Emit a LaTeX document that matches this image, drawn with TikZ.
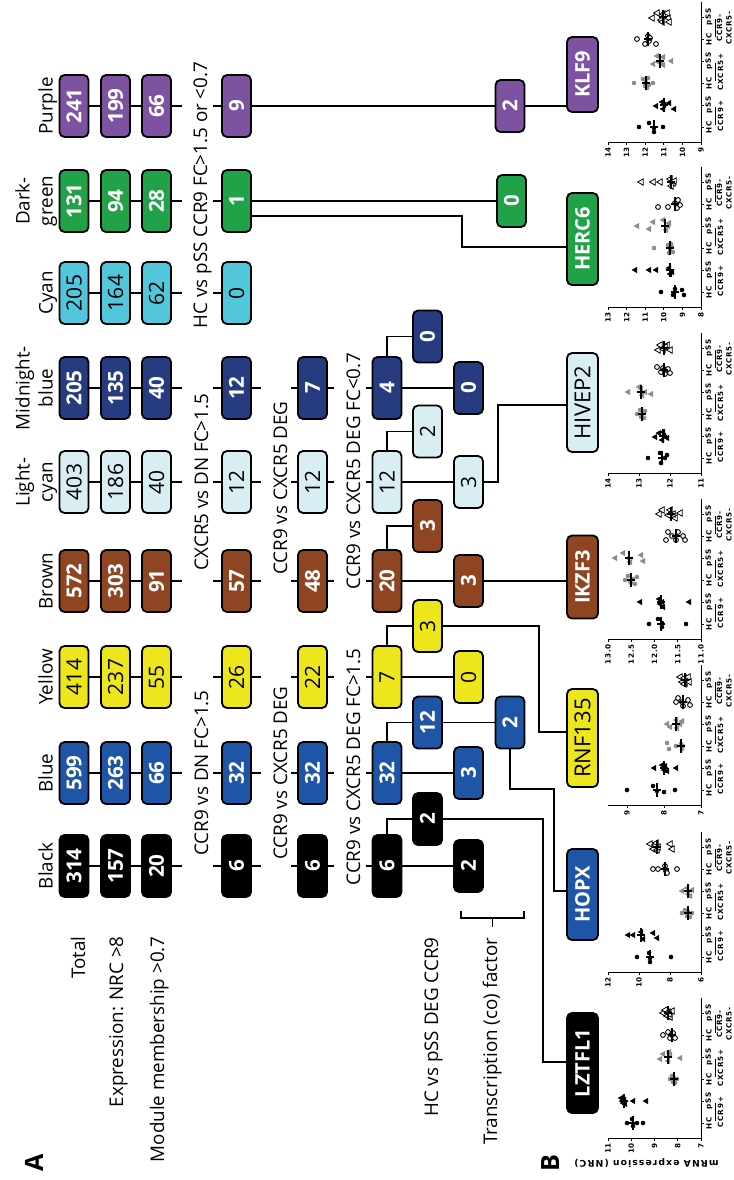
\documentclass[tikz,border=0pt]{standalone}
\usepackage{fontspec}
\setmainfont{Open Sans}
\newfontfamily\plotfont[LetterSpace=12]{DejaVu Sans}
\definecolor{cblack}{HTML}{000000}
\definecolor{cblue}{HTML}{1F55A6}
\definecolor{cyellow}{HTML}{EDE61D}
\definecolor{cbrown}{HTML}{8F4521}
\definecolor{clcyan}{HTML}{D9EEF3}
\definecolor{cmblue}{HTML}{263B80}
\definecolor{ccyan}{HTML}{52C6DA}
\definecolor{cgreen}{HTML}{21A249}
\definecolor{cpurple}{HTML}{7D52A0}
\definecolor{cgray}{HTML}{8C8C8C}
\newcommand\mkKc[2]{\fill[black] (#1,{#2}) circle (1.15pt);}
\newcommand\mkGc[2]{\fill[cgray] (#1,{#2}) circle (1.15pt);}
\newcommand\mkOc[2]{\draw[black,line width=0.45pt,fill=white] (#1,{#2}) circle (1.2pt);}
\newcommand\mkKt[2]{\fill[black] (#1,{#2}) +(-1.7pt,0) -- +(1.1pt,1.6pt) -- +(1.1pt,-1.6pt) -- cycle;}
\newcommand\mkGt[2]{\fill[cgray] (#1,{#2}) +(-1.7pt,0) -- +(1.1pt,1.6pt) -- +(1.1pt,-1.6pt) -- cycle;}
\newcommand\mkOt[2]{\draw[black,line width=0.4pt,fill=white] (#1,{#2}) +(-1.7pt,0) -- +(1.1pt,1.6pt) -- +(1.1pt,-1.6pt) -- cycle;}
\newcommand\medln[2]{\draw[medl] (#1,{#2-7}) -- (#1,{#2+7}); \draw[medl] ({#1-4},{#2}) -- ({#1+4},{#2});}
\newcommand\dgrp[4]{\foreach \px/\dy in {#4}{\csname mk#1\endcsname{\px}{#2+(\dy)}} \medln{#3}{#2}}
\newcommand\plotaxes[1]{%
  \draw[axl] (608,0) -- (701,0) -- (701,-140);
  \foreach \tkx/\tkl in {#1}{\draw[axl] (\tkx,0) -- (\tkx,3); \node[ticklbl] at (\tkx,4) {\tkl};}
  \foreach \cy/\cname in {-15/HC,-37/pSS,-59/HC,-81/pSS,-103/HC,-125/pSS}{\draw[axl] (701,\cy) -- (704,\cy); \node[catlbl] at (709,\cy) {\cname};}
  \foreach \gy in {-26,-70,-114}{\draw[axl] (715,{\gy-9}) -- (715,{\gy+9});}
  \node[catlbl,anchor=base] at (723,-26) {CCR9+};
  \node[catlbl,anchor=base] at (723,-70) {CXCR5+};
  \node[catlbl,anchor=south,align=center,text depth=0pt] at (732,-114) {CCR9-\\CXCR5-};
}
\begin{document}
\begin{tikzpicture}[x=0.5pt,y=-0.5pt,
  conn/.style={line width=0.8pt},
  box/.style={draw=black,line width=0.9pt,rounded corners=2.5pt,rotate=90,minimum width=31pt,minimum height=14.5pt,inner sep=0pt},
  sbox/.style={box,minimum width=26pt},
  gbox/.style={box,minimum height=15.5pt},
  dk/.style={text=white,font=\fontsize{10.3}{12}\selectfont\bfseries},
  lt/.style={text=black,font=\fontsize{10.5}{12}\selectfont},
  gdk/.style={text=white,font=\fontsize{10}{12}\selectfont\bfseries},
  glt/.style={text=black,font=\fontsize{11}{13}\selectfont},
  mk/.style={fill=cblack,dk}, mb/.style={fill=cblue,dk}, my/.style={fill=cyellow,lt},
  mbr/.style={fill=cbrown,dk}, mlc/.style={fill=clcyan,lt}, mmb/.style={fill=cmblue,dk},
  mc/.style={fill=ccyan,lt}, mg/.style={fill=cgreen,dk}, mp/.style={fill=cpurple,dk},
  lbl/.style={rotate=90,inner sep=0pt,font=\fontsize{9.4}{11.5}\selectfont},
  axl/.style={line width=0.5pt},
  medl/.style={line width=0.55pt},
  ticklbl/.style={rotate=90,anchor=east,inner sep=0.3pt,font=\plotfont\bfseries\fontsize{3.6}{4}\selectfont},
  catlbl/.style={rotate=90,inner sep=0pt,font=\plotfont\bfseries\fontsize{3.6}{4.8}\selectfont}
]
\useasboundingbox (0,0) rectangle (734,1180);
\fill[white] (0,0) rectangle (734,1180);

% ---------- rows 1-3 ----------
\foreach \nn/\yy/\va/\vb/\vc/\vs in {k/866/314/157/20/mk, b/773/599/263/66/mb, y/677/414/237/55/my, br/581/572/303/91/mbr, lc/482/403/186/40/mlc, mb/388/205/135/40/mmb, c/293/205/164/62/mc, dg/201/131/94/28/mg, p/106/241/199/66/mp}{
  \node[box,\vs] (\nn1) at (74,\yy) {\va};
  \node[box,\vs] (\nn2) at (115.5,\yy) {\vb};
  \node[box,\vs] (\nn3) at (156.5,\yy) {\vc};
  \draw[conn] (\nn1.south) -- (\nn2.north) (\nn2.south) -- (\nn3.north) (\nn3.south) -- ++(10,0);
}
% ---------- row 4 ----------
\foreach \nn/\yy/\vv/\vs in {k/866/6/mk, b/773/32/mb, y/677/26/my, br/581/57/mbr, lc/482/12/mlc, mb/388/12/mmb, c/293/0/mc, dg/201/1/mg, p/106/9/mp}{
  \node[box,\vs] (\nn4) at (236.5,\yy) {\vv};
  \draw[conn] (\nn4.north) -- ++(-8,0);
}
\foreach \nn in {k,b,y,br,lc,mb}{\draw[conn] (\nn4.south) -- ++(9,0);}
% ---------- row 5 ----------
\foreach \nn/\yy/\vv/\vs in {k/866/6/mk, b/773/32/mb, y/677/22/my, br/581/48/mbr, lc/482/12/mlc, mb/388/7/mmb}{
  \node[box,\vs] (\nn5) at (312.5,\yy) {\vv};
  \draw[conn] (\nn5.north) -- ++(-6,0) (\nn5.south) -- ++(6,0);
}
% ---------- row 6 ----------
\foreach \nn/\yy/\vv/\vs in {k/866/6/mk, b/773/32/mb, y/677/7/my, br/581/20/mbr, lc/482/12/mlc, mb/388/4/mmb}{
  \node[box,\vs] (\nn6) at (387,\yy) {\vv};
  \draw[conn] (\nn6.north) -- ++(-6,0);
}
% ---------- sub boxes ----------
\node[sbox,mk] (kA) at (427.5,819) {2};
\node[sbox,mk] (kB) at (468.5,866) {2};
\node[sbox,mb] (bA) at (427.5,722.5) {12};
\node[sbox,mb] (bB) at (468.5,773) {3};
\node[sbox,mb] (bC) at (510,722.5) {2};
\node[sbox,my] (yA) at (427.5,626) {3};
\node[sbox,my] (yB) at (468.5,677) {0};
\node[sbox,mbr] (brA) at (427.5,526) {3};
\node[sbox,mbr] (brB) at (468.5,581) {3};
\node[sbox,mlc] (lcA) at (427.5,431.5) {2};
\node[sbox,mlc] (lcB) at (468.5,482) {3};
\node[sbox,mmb] (mbA) at (427.5,336.5) {0};
\node[sbox,mmb] (mbB) at (468.5,388) {0};
\node[sbox,mg] (dgC) at (511.5,201) {0};
\node[sbox,mp] (pC) at (510,106) {2};
\foreach \nn in {k,b,y,br,lc,mb}{
  \draw[conn] (\nn6.south) -- (\nn B.north);
  \draw[conn] (\nn6.east) |- (\nn A.north);
}
% ---------- gene boxes ----------
\node[gbox,fill=cpurple,gdk,minimum width=37.5pt] (klf) at (582.5,74.5) {KLF9};
\node[gbox,fill=cgreen,gdk,minimum width=46pt] (herc) at (582.5,239) {HERC6};
\node[gbox,fill=clcyan,glt,minimum width=49.5pt] (hivep) at (582.5,402.5) {HIVEP2};
\node[gbox,fill=cbrown,gdk,minimum width=41.5pt] (ikzf) at (582.5,577) {IKZF3};
\node[gbox,fill=cyellow,glt,minimum width=49pt] (rnf) at (582.5,738) {RNF135};
\node[gbox,fill=cblue,gdk,minimum width=45.5pt] (hopx) at (582.5,894.5) {HOPX};
\node[gbox,fill=cblack,gdk,minimum width=50pt] (lztfl) at (582.5,1063) {LZTFL1};
% ---------- gene connectors ----------
\draw[conn] (p4.south) -- (pC.north);
\draw[conn] (pC.south) -- (pC.south -| klf.north);
\draw[conn] (dg4.south) -- (dgC.north);
\coordinate (dgbend) at (462,247);
\draw[conn] ([yshift=-7.5pt]dg4.south) -| (dgbend) -- (dgbend -| herc.north);
\coordinate (lcbend) at (498,405);
\draw[conn] (lcB.south) -| (lcbend) -- (lcbend -| hivep.north);
\draw[conn] (brB.south) -- (brB.south -| ikzf.north);
\coordinate (ybend) at (539,732);
\draw[conn] (yA.south) -| (ybend) -- (ybend -| rnf.north);
\draw[conn] (bA.south) -- (bC.north);
\coordinate (bbend1) at (554,789);
\coordinate (bbend2) at (554,891);
\draw[conn] (bC.west) |- (bbend1) -- (bbend2) -- (bbend2 -| hopx.north);
\coordinate (kbend) at (543,1062);
\draw[conn] (kA.south) -| (kbend) -- (kbend -| lztfl.north);
% bracket
\draw[conn] (461,911) -- (461,918) -- (524,918) -- (524,911) (492.5,918) -- (492.5,927);
% ---------- labels ----------
\node[lbl,anchor=south,align=center,text depth=0pt] at (53,866) {Black};
\node[lbl,anchor=south,align=center,text depth=0pt] at (53,773) {Blue};
\node[lbl,anchor=south,align=center,text depth=0pt] at (53,677) {Yellow};
\node[lbl,anchor=south,align=center,text depth=0pt] at (53,581) {Brown};
\node[lbl,anchor=south,align=center,text depth=0pt] at (53,482) {Light-\\cyan};
\node[lbl,anchor=south,align=center,text depth=0pt] at (53,388) {Midnight-\\blue};
\node[lbl,anchor=south,align=center,text depth=0pt] at (53,293) {Cyan};
\node[lbl,anchor=south,align=center,text depth=0pt] at (53,201) {Dark-\\green};
\node[lbl,anchor=south,align=center,text depth=0pt] at (53,106) {Purple};
\node[lbl,anchor=base east] at (85,936) {Total};
\node[lbl,anchor=base east] at (123,936) {Expression: NRC >8};
\node[lbl,anchor=base east] at (164,936) {Module membership >0.7};
\node[lbl,anchor=base] at (208,773) {CCR9 vs DN FC>1.5};
\node[lbl,anchor=base] at (208,482) {CXCR5 vs DN FC>1.5};
\node[lbl,anchor=base] at (207,195) {HC vs pSS CCR9 FC>1.5 or <0.7};
\node[lbl,anchor=base] at (287,773) {CCR9 vs CXCR5 DEG};
\node[lbl,anchor=base] at (287,488) {CCR9 vs CXCR5 DEG};
\node[lbl,anchor=base] at (360,767) {CCR9 vs CXCR5 DEG FC>1.5};
\node[lbl,anchor=base] at (360,471) {CCR9 vs CXCR5 DEG FC<0.7};
\node[lbl,anchor=base east] at (438,937) {HC vs pSS DEG CCR9};
\node[lbl,anchor=base east] at (497,937) {Transcription (co) factor};
\node[rotate=90,inner sep=0pt,font=\fontsize{12.6}{14}\selectfont\bfseries] at (34,1163) {A};
\node[rotate=90,inner sep=0pt,font=\fontsize{12.6}{14}\selectfont\bfseries] at (551,1163) {B};
\node[rotate=180,anchor=east,inner sep=0pt,font=\plotfont\bfseries\fontsize{4.6}{5.5}\selectfont] at (574,1163) {mRNA expression (NRC)};
% ---------- panel B plots ----------
\begin{scope}[shift={(0,142)}]
\plotaxes{701/9,682.4/10,663.8/11,645.2/12,626.6/13,608/14}
\dgrp{Kc}{-15}{654}{639/0,649/-4,654/1,654/5,663/0}
\dgrp{Kt}{-37}{664}{656/1,662/-3,663/4,669/-2,674/4,664/0}
\dgrp{Gc}{-59}{646}{634/0,643/-4,645/3,646/-1,647/5,648/-5,649/2,653/0}
\dgrp{Gt}{-81}{660}{653/3,657/-5,658/1,663/4,671/0,663/-4,661/1}
\dgrp{Oc}{-103}{648}{637/0,645/5,648/-3,649/2,656/5,650/-1}
\dgrp{Ot}{-125}{663}{652/1,657/-4,661/3,663/-3,668/1,669/5,667/-4,662/5}
\end{scope}
\begin{scope}[shift={(0,307)}]
\plotaxes{701/8,682.4/9,663.8/10,645.2/11,626.6/12,608/13}
\dgrp{Kc}{-15}{675}{661/0,673/3,675/-3,682/-2,684/3}
\dgrp{Kt}{-37}{670}{635/0,649/0,656/0,669/-2,672/2,670/4}
\dgrp{Gc}{-59}{670}{654/0,668/-3,670/2,672/-1,673/4,669/5,671/-4}
\dgrp{Gt}{-81}{665}{637/0,649/3,653/-4,663/-6,666/4,668/0,669/-3}
\dgrp{Oc}{-103}{675}{658/3,668/3,675/-1,677/4,680/1,678/-4}
\dgrp{Ot}{-125}{671}{641/0,653/0,660/0,670/-3,673/1,671/4,674/-1}
\end{scope}
\begin{scope}[shift={(0,473)}]
\plotaxes{701/11,670/12,639/13,608/14}
\dgrp{Kc}{-15}{662}{648/0,660/-5,661/5,665/0,667/-3}
\dgrp{Kt}{-37}{663}{655/1,659/-3,662/4,663/-4,667/2,664/0}
\dgrp{Gc}{-59}{642}{637/0,640/-4,641/3,643/-1,644/4,645/-3,642/1}
\dgrp{Gt}{-81}{641}{628/0,641/-3,642/3,651/2,639/-5,645/0}
\dgrp{Oc}{-103}{664}{657/-3,661/2,663/-2,665/4,668/-1,670/3,664/0}
\dgrp{Ot}{-125}{664}{658/2,660/-3,663/1,667/-3,670/2,665/-1}
\end{scope}
\begin{scope}[shift={(0,639)}]
\plotaxes{701/11.0,677.75/11.5,654.5/12.0,631.25/12.5,608/13.0}
\dgrp{Kc}{-15}{661}{649/0,658/-5,662/3,662/-1,686/0}
\dgrp{Kt}{-37}{661}{640/0,659/-3,660/2,663/5,689/0,662/0}
\dgrp{Gc}{-59}{631}{625/0,628/-4,631/3,633/-1,635/4,637/-3,630/1}
\dgrp{Gt}{-81}{629}{615/0,623/-5,628/0,630/4,641/-3,643/3}
\dgrp{Oc}{-103}{676}{666/4,668/-4,672/0,676/4,678/-4,683/0,685/4}
\dgrp{Ot}{-125}{671}{659/0,662/-4,668/1,670/-4,675/4,680/-1,673/0}
\end{scope}
\begin{scope}[shift={(0,805)}]
\plotaxes{701/7,664/8,627/9}
\dgrp{Kc}{-15}{657}{627/0,653/-4,657/1,664/2,675/0}
\dgrp{Kt}{-37}{664}{654/0,662/-3,664/2,665/-2,667/3,676/0}
\dgrp{Gc}{-59}{681}{667/-3,669/3,676/0,681/-2,682/3,683/0}
\dgrp{Gt}{-81}{676}{667/0,670/3,676/-4,677/4,680/0,682/-3}
\dgrp{Oc}{-103}{683}{676/0,678/-4,682/0,683/4,688/-2,690/3}
\dgrp{Ot}{-125}{685}{680/-3,682/2,684/-2,685/3,686/0,688/-3,689/2,684/4}
\end{scope}
\begin{scope}[shift={(0,972)}]
\plotaxes{701/6,670/8,639/10,608/12}
\dgrp{Kc}{-15}{650}{637/0,649/-4,650/1,650/5,671/0}
\dgrp{Kt}{-37}{641}{628/0,633/0,641/-3,643/4,653/-2,657/3}
\dgrp{Gc}{-59}{688}{682/0,685/-3,687/3,688/-1,690/4,692/0}
\dgrp{Gt}{-81}{688}{682/0,687/-3,688/3,690/5,692/-1}
\dgrp{Oc}{-103}{665}{653/0,658/0,665/-3,666/2,667/4,677/0}
\dgrp{Ot}{-125}{657}{650/-3,653/2,655/-2,657/3,658/0,670/-3,672/2,656/-4}
\end{scope}
\begin{scope}[shift={(0,1138)}]
\plotaxes{701/7,677.75/8,654.5/9,631.25/10,608/11}
\dgrp{Kc}{-15}{633}{627/0,632/-4,633/3,637/0,643/0}
\dgrp{Kt}{-37}{624}{621/-3,623/2,624/-1,625/3,622/0,633/0,646/0}
\dgrp{Gc}{-59}{674}{670/0,672/-3,673/3,674/-1,675/4,677/0,674/2}
\dgrp{Gt}{-81}{668}{660/2,663/-3,668/4,670/-2,680/1,669/-5}
\dgrp{Oc}{-103}{672}{663/0,668/-3,670/3,672/0,673/-2,675/3}
\dgrp{Ot}{-125}{668}{663/0,665/-3,667/3,668/-1,670/4,672/-2,669/1}
\end{scope}
\end{tikzpicture}
\end{document}
